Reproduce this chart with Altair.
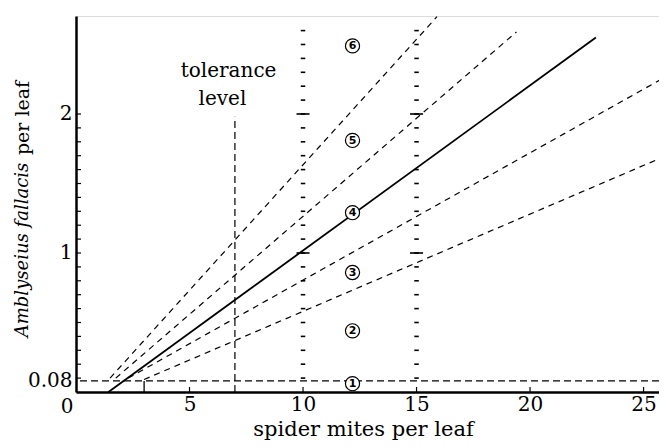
import altair as alt
import pandas as pd

# ---- data ----
dash_ids = ["A", "B", "C", "D"]
dash_x0 = [1.5, 1.75, 2.3, 3.0]
dash_y0 = [0.10, 0.10, 0.10, 0.09]
dash_x1 = [15.9, 19.4, 26.0, 26.0]
dash_y1 = [2.70, 2.59, 2.27, 1.70]

solid_x = [1.43, 22.9]
solid_y = [0.0, 2.55]

threshold = 0.08
tolerance_x = 7
tolerance_top = 1.98
extra_tick_x = 3

circle_labels = ["1", "2", "3", "4", "5", "6"]
circle_x = [12.18] * 6
circle_y = [0.06, 0.44, 0.86, 1.29, 1.81, 2.49]

column_x = [10, 15]
column_y = [round(0.1 * i, 1) for i in range(1, 27)]
column_long_y = [1.0, 2.0]

x_tick_values = [5, 10, 15, 20, 25]
y_tick_labels = [0.08, 1, 2]
y_minor_ticks = [round(0.1 * i, 1) for i in range(1, 21)]

ann_text = ["tolerance", "level"]
ann_x = [6.72, 6.45]
ann_y = [2.266, 2.065]

# ---- scales ----
W, H = 583, 376
XD = [0, 25.68]
YD = [0, 2.705]
FONT = "DejaVu Serif"

xs = alt.Scale(domain=XD, nice=False, zero=False)
ys = alt.Scale(domain=YD, nice=False, zero=False)

# ---- tables ----
dash_rows = []
for i, k in enumerate(dash_ids):
    dash_rows.append({"id": k, "x": dash_x0[i], "y": dash_y0[i], "o": 0})
    dash_rows.append({"id": k, "x": dash_x1[i], "y": dash_y1[i], "o": 1})
dash_df = pd.DataFrame(dash_rows)
solid_df = pd.DataFrame({"x": solid_x, "y": solid_y, "o": [0, 1]})
col_df = pd.DataFrame([{"x": cx, "y": cy} for cx in column_x for cy in column_y])
col_long_df = pd.DataFrame([{"x": cx, "y": cy} for cx in column_x for cy in column_long_y])
circ_df = pd.DataFrame({"x": circle_x, "y": circle_y, "t": circle_labels})
xt_df = pd.DataFrame({"x": x_tick_values})
yt_df = pd.DataFrame({"y": y_minor_ticks})
ann_df = pd.DataFrame({"x": ann_x, "y": ann_y, "t": ann_text})

x_axis = alt.Axis(values=x_tick_values, ticks=False, grid=False, domainWidth=2.5,
                  domainColor="black", labelFont=FONT, labelFontSize=20,
                  labelColor="black", labelPadding=2,
                  title="spider mites per leaf", titleFont=FONT, titleFontSize=21,
                  titleFontWeight="normal", titleColor="black",
                  titleBaseline="alphabetic", titleY=43, titleX=287, titleAlign="center")
y_axis = alt.Axis(values=y_tick_labels, ticks=False, grid=False, domainWidth=2.5,
                  domainColor="black", labelFont=FONT, labelFontSize=20,
                  labelColor="black", labelPadding=4, format="~g", title=None)

base_x = alt.X("x:Q", scale=xs, axis=x_axis)
base_y = alt.Y("y:Q", scale=ys, axis=y_axis)

solid = alt.Chart(solid_df).mark_line(color="black", strokeWidth=1.8).encode(
    x=base_x, y=base_y, order="o:Q")

dashed = alt.Chart(dash_df).mark_line(color="black", strokeWidth=1.2, strokeDash=[6, 5],
                                       clip=True).encode(
    x=alt.X("x:Q", scale=xs), y=alt.Y("y:Q", scale=ys), detail="id:N", order="o:Q")

thr = alt.Chart(pd.DataFrame({"y": [threshold]})).mark_rule(
    color="black", strokeWidth=1.2, strokeDash=[7, 4]).encode(y=alt.Y("y:Q", scale=ys))

tol = alt.Chart(pd.DataFrame({"x": [tolerance_x], "y": [0], "y2": [tolerance_top]})).mark_rule(
    color="black", strokeWidth=1.2, strokeDash=[7, 4]).encode(
    x=alt.X("x:Q", scale=xs), y=alt.Y("y:Q", scale=ys), y2="y2:Q")

xtra = alt.Chart(pd.DataFrame({"x": [extra_tick_x], "y": [0], "y2": [threshold]})).mark_rule(
    color="black", strokeWidth=1.3).encode(
    x=alt.X("x:Q", scale=xs), y=alt.Y("y:Q", scale=ys), y2="y2:Q")

cols = alt.Chart(col_df).mark_point(shape="M-1,0L1,0", size=20, color="black",
                                     strokeWidth=1.6, filled=False, opacity=1).encode(
    x=alt.X("x:Q", scale=xs), y=alt.Y("y:Q", scale=ys))
cols_long = alt.Chart(col_long_df).mark_point(shape="M-1,0L1,0", size=170, color="black",
                                               strokeWidth=1.6, filled=False, opacity=1).encode(
    x=alt.X("x:Q", scale=xs), y=alt.Y("y:Q", scale=ys))

xticks = alt.Chart(xt_df).mark_rule(color="black", strokeWidth=1.2).encode(
    x=alt.X("x:Q", scale=xs), y=alt.value(H), y2=alt.value(H - 5))
yticks = alt.Chart(yt_df).mark_rule(color="black", strokeWidth=1.2).encode(
    y=alt.Y("y:Q", scale=ys), x=alt.value(0), x2=alt.value(5))

circles = alt.Chart(circ_df).mark_point(shape="circle", size=200, fill="white",
                                         stroke="black", strokeWidth=1.2, opacity=1,
                                         fillOpacity=1).encode(
    x=alt.X("x:Q", scale=xs), y=alt.Y("y:Q", scale=ys))
circ_txt = alt.Chart(circ_df).mark_text(font="DejaVu Sans", fontSize=11, fontWeight="bold",
                                         color="black", baseline="middle", dy=0.5).encode(
    x=alt.X("x:Q", scale=xs), y=alt.Y("y:Q", scale=ys), text="t:N")

ann = alt.Chart(ann_df).mark_text(font=FONT, fontSize=20, color="black",
                                   baseline="alphabetic", align="center").encode(
    x=alt.X("x:Q", scale=xs), y=alt.Y("y:Q", scale=ys), text="t:N")

zero_lbl = alt.Chart(pd.DataFrame({"x": [0], "y": [0], "t": ["0"]})).mark_text(
    font=FONT, fontSize=20, color="black", baseline="middle", align="center",
    dx=-9, dy=15).encode(x=alt.X("x:Q", scale=xs), y=alt.Y("y:Q", scale=ys), text="t:N")

ytitle_it = alt.Chart(pd.DataFrame({"t": ["Amblyseius fallacis"]})).mark_text(
    font=FONT, fontSize=18, fontStyle="italic", color="black", angle=270,
    align="center", baseline="middle").encode(
    x=alt.value(-53), y=alt.value(234), text="t:N")
ytitle_rm = alt.Chart(pd.DataFrame({"t": ["per leaf"]})).mark_text(
    font=FONT, fontSize=19, color="black", angle=270,
    align="center", baseline="middle").encode(
    x=alt.value(-53), y=alt.value(102), text="t:N")

chart = alt.layer(
    solid, dashed, thr, tol, xtra, cols, cols_long, xticks, yticks,
    circles, circ_txt, ann, zero_lbl, ytitle_it, ytitle_rm
).properties(
    width=W, height=H,
    autosize=alt.AutoSizeParams(type="none"),
    padding={"left": 68, "top": 8, "right": 0, "bottom": 48},
).configure_view(stroke=None).configure(background="white")

chart.save("out.html", embed_options={"renderer": "svg", "actions": False})
